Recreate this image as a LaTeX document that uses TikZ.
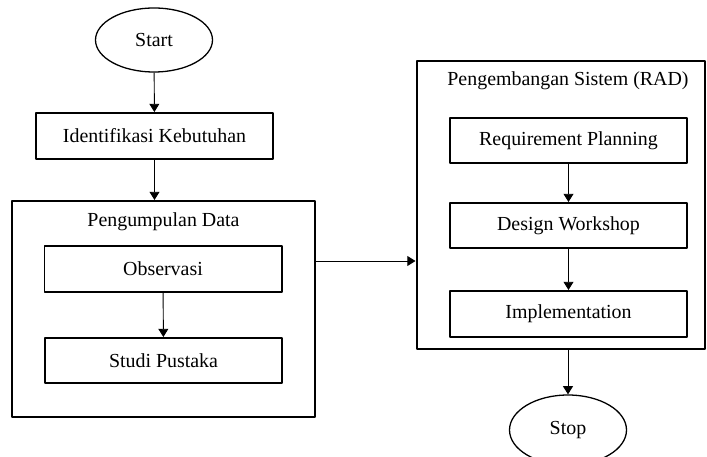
\documentclass[tikz,border=0pt]{standalone}
\usepackage{fontspec}
\setmainfont{Liberation Serif}
\usetikzlibrary{arrows.meta,shapes.geometric}
\def\pxu{0.03cm}
\begin{document}
\begin{tikzpicture}[x=\pxu, y=-\pxu, font=\fontsize{17}{20}\selectfont, line join=round,
	>={Triangle[width=8.5pt,length=7pt]},
	proses/.style={draw, line width=1.7pt, minimum width=237*\pxu, minimum height=46*\pxu, inner sep=0pt},
	grup/.style={draw, line width=1.7pt, inner sep=0pt},
	terminal/.style={draw, ellipse, line width=1.1pt, minimum width=117*\pxu, minimum height=64*\pxu, inner sep=0pt},
	panah/.style={->, line width=0.8pt}]
	\useasboundingbox (0,0) rectangle (707,457);
	% kiri
	\node[terminal] (start) at (154,40) {Start};
	\node[proses] (ident) at (154.5,136) {Identifikasi Kebutuhan};
	\node[grup, minimum width=303*\pxu, minimum height=216*\pxu] (pd) at (163.5,309) {};
	\node (pdlabel) at (163.5,222) {Pengumpulan Data};
	\node[proses] (obs) at (163,269) {Observasi};
	\node[proses, minimum height=45*\pxu] (studi) at (163.5,360.5) {Studi Pustaka};
	% kanan
	\node[grup, minimum width=288*\pxu, minimum height=288*\pxu] (rad) at (560.5,205) {};
	\node (radlabel) at (568,81) {Pengembangan Sistem (RAD)};
	\node[proses, minimum height=45*\pxu] (req) at (568.5,140.5) {Requirement Planning};
	\node[proses, minimum height=45*\pxu] (dw) at (568.5,225.5) {Design Workshop};
	\node[proses] (impl) at (568.5,314) {Implementation};
	\node[terminal, minimum height=70*\pxu] (stop) at (568,430) {Stop};
	\coordinate (link) at (0,261);

	\draw[panah] (start) -- (ident);
	\draw[panah] (ident.south) -- (ident.south |- pd.north);
	\draw[panah] (obs) -- (studi);
	\draw[panah] (pd.east |- link) -- (rad.west |- link);
	\draw[panah] (req) -- (dw);
	\draw[panah] (dw) -- (impl);
	\draw[panah] (rad.south -| stop) -- (stop);
\end{tikzpicture}
\end{document}
